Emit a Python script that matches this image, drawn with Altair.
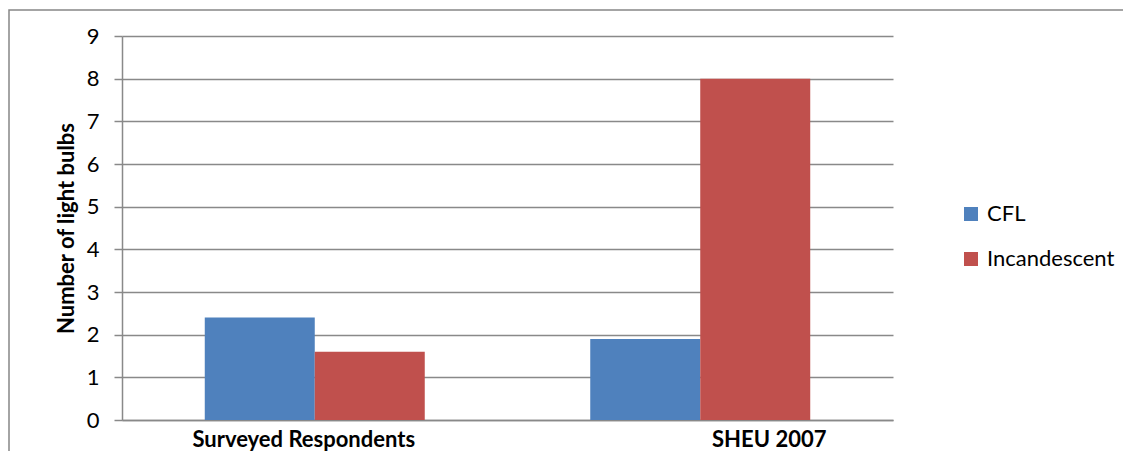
import altair as alt
import pandas as pd

categories = ["Surveyed Respondents", "SHEU 2007"]
series = ["CFL", "Incandescent"]
cfl_values = [2.4, 1.9]
incandescent_values = [1.6, 8.0]
y_ticks = [0, 1, 2, 3, 4, 5, 6, 7, 8, 9]
colors = ["#4F81BD", "#C0504D"]

rows = []
for i, c in enumerate(categories):
    rows.append({"category": c, "series": series[0], "value": cfl_values[i]})
    rows.append({"category": c, "series": series[1], "value": incandescent_values[i]})
df = pd.DataFrame(rows)

FONT = "Lato"
GRAY = "#898989"

bars = alt.Chart(df).mark_bar().encode(
    x=alt.X(
        "category:N",
        sort=categories,
        scale=alt.Scale(paddingInner=0.4293, paddingOuter=0.2147),
        axis=alt.Axis(
            title=None,
            labelAngle=0,
            labelFont=FONT,
            labelFontSize=22,
            labelFontWeight="bold",
            labelColor="black",
            labelBaseline="alphabetic",
            labelPadding=26,
            labelLimit=0,
            ticks=False,
            tickSize=0,
            domainColor=GRAY,
            domainWidth=1.5,
            labelOffset={"condition": {"test": "datum.value === 'SHEU 2007'", "value": 69}, "value": -11},
        ),
    ),
    xOffset=alt.XOffset("series:N", sort=series),
    y=alt.Y(
        "value:Q",
        scale=alt.Scale(domain=[0, 9], nice=False),
        axis=alt.Axis(
            values=y_ticks,
            title="Number of light bulbs",
            titleFont=FONT,
            titleFontSize=22,
            titleFontWeight="bold",
            titleColor="black",
            titleAngle=270,
            titleAlign="center",
            titleBaseline="alphabetic",
            titleX=-49,
            titleY=192,
            labelFont=FONT,
            labelFontSize=22,
            labelColor="black",
            labelPadding=15,
            tickSize=8,
            tickColor=GRAY,
            tickWidth=1.5,
            domainColor=GRAY,
            domainWidth=1.5,
            gridColor=GRAY,
            gridWidth=1.5,
            grid=True,
        ),
    ),
    color=alt.Color(
        "series:N",
        sort=series,
        scale=alt.Scale(domain=series, range=colors),
        legend=alt.Legend(
            title=None,
            orient="none",
            legendX=838,
            legendY=167,
            padding=0,
            symbolType="square",
            symbolSize=196,
            symbolStrokeWidth=0,
            labelFont=FONT,
            labelFontSize=22,
            labelColor="black",
            labelOffset=5,
            rowPadding=23,
        ),
    ),
)

frame = alt.Chart(alt.Data(values=[{"f": 1}])).mark_rect(
    filled=False, stroke="#868686", strokeWidth=1.5
).encode(
    x=alt.value(-113), x2=alt.value(1100), y=alt.value(-26), y2=alt.value(500)
)

chart = alt.layer(frame, bars).properties(
    width=771,
    height=384,
    autosize=alt.AutoSizeParams(type="none"),
    padding={"left": 114, "top": 28, "right": 230, "bottom": 31},
    background="white",
).configure_view(stroke=None)

chart.save("out.html", embed_options={"renderer": "svg", "actions": False})
